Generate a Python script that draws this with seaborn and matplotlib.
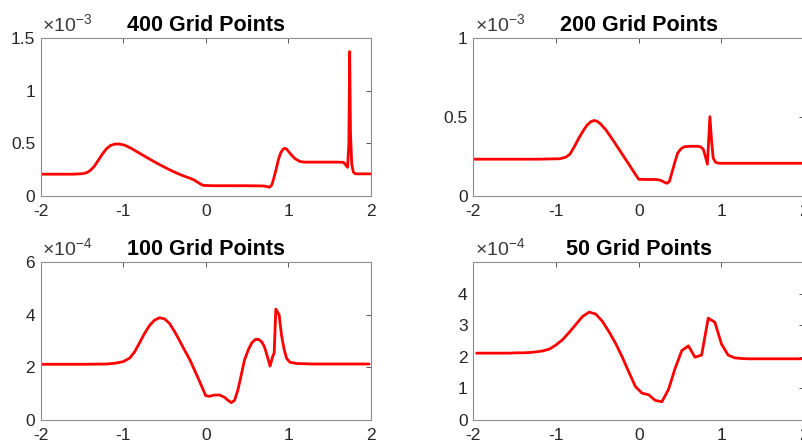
import numpy as np
import pandas as pd
import matplotlib
matplotlib.use("Agg")
import matplotlib.pyplot as plt
import seaborn as sns

# ---------------- data (y values in units of the axis exponent) ----------------
titles = ["400 Grid Points", "200 Grid Points", "100 Grid Points", "50 Grid Points"]
exponents = [-3, -3, -4, -4]

x400 = [-2.00, -1.60, -1.49, -1.44, -1.40, -1.35, -1.30, -1.25, -1.20, -1.15, -1.10,
        -1.05, -1.00, -0.96, -0.90, -0.80, -0.70, -0.59, -0.49, -0.39, -0.29, -0.19,
        -0.14, -0.11, -0.07, -0.03, 0.10, 0.30, 0.50, 0.70, 0.74, 0.77, 0.80, 0.82,
        0.85, 0.88, 0.91, 0.94, 0.96, 0.98, 1.01, 1.04, 1.08, 1.14, 1.20, 1.40, 1.60,
        1.67, 1.70, 1.72, 1.735, 1.745, 1.755, 1.77, 1.79, 1.81, 1.85, 2.00]
y400 = [0.205, 0.205, 0.21, 0.22, 0.24, 0.28, 0.34, 0.40, 0.45, 0.48, 0.492,
        0.493, 0.485, 0.474, 0.45, 0.404, 0.358, 0.309, 0.268, 0.229, 0.195, 0.166,
        0.150, 0.134, 0.115, 0.098, 0.095, 0.095, 0.095, 0.093, 0.088, 0.080, 0.10, 0.15,
        0.24, 0.34, 0.41, 0.445, 0.452, 0.445, 0.415, 0.388, 0.355, 0.326, 0.320, 0.320, 0.320,
        0.318, 0.29, 0.27, 0.50, 1.373, 0.60, 0.30, 0.225, 0.210, 0.208, 0.208]

x200 = [-2.00, -1.20, -0.95, -0.88, -0.83, -0.78, -0.73, -0.68, -0.63, -0.58, -0.54,
        -0.50, -0.46, -0.40, -0.34, -0.28, -0.22, -0.16, -0.10, -0.04, 0.00, 0.10,
        0.20, 0.25, 0.28, 0.31, 0.34, 0.37, 0.41, 0.44, 0.47, 0.51, 0.55, 0.62,
        0.71, 0.75, 0.78, 0.80, 0.83, 0.86, 0.88, 0.90, 0.93, 0.96, 1.00, 1.20, 2.00]
y200 = [0.232, 0.232, 0.235, 0.245, 0.265, 0.31, 0.36, 0.405, 0.445, 0.47, 0.478,
        0.472, 0.455, 0.42, 0.375, 0.328, 0.280, 0.232, 0.184, 0.135, 0.104, 0.103,
        0.103, 0.10, 0.094, 0.085, 0.079, 0.09, 0.163, 0.22, 0.27, 0.298, 0.311, 0.314,
        0.314, 0.310, 0.295, 0.26, 0.20, 0.502, 0.35, 0.238, 0.212, 0.207, 0.206, 0.206, 0.206]

x100 = [-1.98, -1.50, -1.20, -1.10, -1.00, -0.92, -0.86, -0.80, -0.74, -0.68, -0.62,
        -0.56, -0.50, -0.44, -0.38, -0.32, -0.26, -0.19, -0.09, 0.00, 0.04, 0.11,
        0.17, 0.23, 0.27, 0.31, 0.35, 0.39, 0.43, 0.47, 0.52, 0.56, 0.60, 0.64,
        0.68, 0.71, 0.74, 0.78, 0.81, 0.83, 0.85, 0.89, 0.92, 0.95, 0.98, 1.02,
        1.10, 1.30, 1.98]
y100 = [2.12, 2.12, 2.13, 2.16, 2.22, 2.36, 2.60, 2.95, 3.30, 3.60, 3.80,
        3.89, 3.85, 3.68, 3.38, 3.04, 2.68, 2.28, 1.58, 0.93, 0.90, 0.95,
        0.95, 0.86, 0.75, 0.66, 0.75, 1.14, 1.70, 2.28, 2.70, 2.94, 3.06, 3.07,
        2.97, 2.80, 2.50, 2.05, 2.40, 2.55, 4.22, 4.00, 3.20, 2.70, 2.35, 2.20,
        2.15, 2.13, 2.13]

x50 = [-1.96, -1.88, -1.80, -1.72, -1.64, -1.56, -1.48, -1.40, -1.32, -1.24,
       -1.16, -1.08, -1.00, -0.92, -0.84, -0.76, -0.68, -0.60, -0.52, -0.44,
       -0.36, -0.28, -0.20, -0.12, -0.04, 0.04, 0.12, 0.20, 0.28, 0.36,
       0.44, 0.52, 0.60, 0.68, 0.76, 0.84, 0.92, 1.00, 1.08, 1.16,
       1.24, 1.32, 1.40, 1.48, 1.56, 1.64, 1.72, 1.80, 1.88, 1.96]
y50 = [2.12, 2.12, 2.12, 2.12, 2.12, 2.12, 2.13, 2.13, 2.14, 2.16,
       2.19, 2.25, 2.38, 2.55, 2.78, 3.03, 3.28, 3.42, 3.36, 3.13,
       2.80, 2.43, 2.00, 1.52, 1.06, 0.85, 0.80, 0.62, 0.58, 0.97,
       1.64, 2.20, 2.35, 1.99, 2.06, 3.23, 3.10, 2.41, 2.06, 1.97,
       1.95, 1.94, 1.94, 1.94, 1.94, 1.94, 1.94, 1.94, 1.94, 1.94]

xs = [x400, x200, x100, x50]
ys = [y400, y200, y100, y50]
ylims = [(0, 1.5), (0, 1.0), (0, 6), (0, 5)]
yticks = [[0, 0.5, 1, 1.5], [0, 0.5, 1], [0, 2, 4, 6], [0, 1, 2, 3, 4]]
ytick_labels = [["0", "0.5", "1", "1.5"], ["0", "0.5", "1"], ["0", "2", "4", "6"],
                ["0", "1", "2", "3", "4"]]
xticks = [-2, -1, 0, 1, 2]
xtick_labels = ["-2", "-1", "0", "1", "2"]

# ---------------- style ----------------
sns.set_style("white")
plt.rcParams["font.family"] = ["Liberation Sans", "DejaVu Sans"]
plt.rcParams["mathtext.fontset"] = "custom"
plt.rcParams["mathtext.rm"] = "Liberation Sans"
plt.rcParams["mathtext.default"] = "regular"

W, H = 803, 443
fig = plt.figure(figsize=(W / 100, H / 100), dpi=100)

# axes rectangles (left, bottom, width, height) in figure fraction
lefts = [40.7 / W, 473.3 / W]
widths = [330.0 / W, 330.9 / W]
bottoms = [1 - 195.7 / H, 1 - 420.0 / H]
heights = [157.4 / H, 157.7 / H]

for i in range(4):
    r, c = divmod(i, 2)
    ax = fig.add_axes([lefts[c], bottoms[r], widths[c], heights[r]])
    df = pd.DataFrame({"x": xs[i], "y": ys[i]})
    sns.lineplot(data=df, x="x", y="y", ax=ax, color="#ff0000", linewidth=2.0,
                 sort=False, estimator=None)
    ax.set_xlim(-2, 2)
    ax.set_ylim(*ylims[i])
    ax.set_xticks(xticks)
    ax.set_xticklabels(xtick_labels)
    ax.set_yticks(yticks[i])
    ax.set_yticklabels(ytick_labels[i])
    ax.set_xlabel("")
    ax.set_ylabel("")
    for s in ax.spines.values():
        s.set_color("#8c8c8c")
        s.set_linewidth(0.8)
    ax.tick_params(axis="both", direction="in", length=3.5, width=0.7,
                   color="#555555", labelcolor="#262626",
                   top=True, right=True, labelsize=12.5)
    ax.tick_params(axis="x", pad=6)
    ax.tick_params(axis="y", pad=4)
    ax.set_title(titles[i], fontsize=15.5, fontweight="bold", color="black", pad=5)
    ax.text(0.005, 1.02, r"$\times10^{%d}$" % exponents[i], transform=ax.transAxes,
            ha="left", va="bottom", fontsize=14, color="#3a3a3a")

fig.savefig("out.png", dpi=100)
